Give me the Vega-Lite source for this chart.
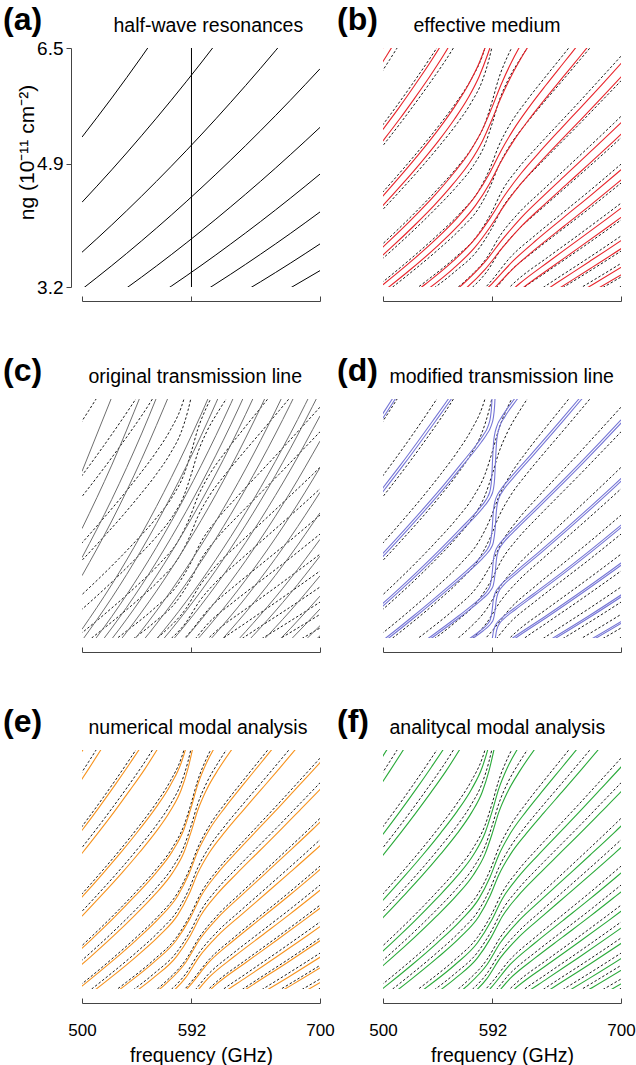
{
"$schema":"https://vega.github.io/schema/vega-lite/v6.json",
"background":"white",
"padding":{"left":3,"top":4,"right":2,"bottom":2},
"autosize":{"type":"pad"},
"config":{
 "view":{"stroke":null},
 "font":"Liberation Sans",
 "axis":{"grid":false,"domainColor":"#444","tickColor":"#444","domainWidth":1,"tickWidth":1,"labelFont":"Liberation Sans","labelFontSize":17,"labelColor":"black","titleFont":"Liberation Sans","titleFontSize":19.5,"titleFontWeight":"normal","titleColor":"black"},
 "title":{"font":"Liberation Sans","fontSize":32,"fontWeight":"bold","color":"black","anchor":"start","frame":"group","baseline":"alphabetic","offset":0,"dy":26}
},
"datasets":{
"half":[
{"b":1,"f":500,"n":5.27},{"b":1,"f":525,"n":5.81},{"b":1,"f":550,"n":6.377},{"b":1,"f":575,"n":6.969},
{"b":2,"f":500,"n":4.37},{"b":2,"f":525,"n":4.818},{"b":2,"f":550,"n":5.288},{"b":2,"f":575,"n":5.779},{"b":2,"f":600,"n":6.293},{"b":2,"f":625,"n":6.828},
{"b":3,"f":500,"n":3.68},{"b":3,"f":525,"n":4.057},{"b":3,"f":550,"n":4.453},{"b":3,"f":575,"n":4.867},{"b":3,"f":600,"n":5.299},{"b":3,"f":625,"n":5.75},{"b":3,"f":650,"n":6.219},{"b":3,"f":675,"n":6.707},
{"b":4,"f":500,"n":3.17},{"b":4,"f":525,"n":3.495},{"b":4,"f":550,"n":3.836},{"b":4,"f":575,"n":4.192},{"b":4,"f":600,"n":4.565},{"b":4,"f":625,"n":4.953},{"b":4,"f":650,"n":5.357},{"b":4,"f":675,"n":5.777},{"b":4,"f":700,"n":6.213},
{"b":5,"f":525,"n":3.04},{"b":5,"f":550,"n":3.336},{"b":5,"f":575,"n":3.646},{"b":5,"f":600,"n":3.97},{"b":5,"f":625,"n":4.308},{"b":5,"f":650,"n":4.659},{"b":5,"f":675,"n":5.025},{"b":5,"f":700,"n":5.404},
{"b":6,"f":550,"n":2.938},{"b":6,"f":575,"n":3.211},{"b":6,"f":600,"n":3.496},{"b":6,"f":625,"n":3.794},{"b":6,"f":650,"n":4.103},{"b":6,"f":675,"n":4.425},{"b":6,"f":700,"n":4.759},
{"b":7,"f":600,"n":3.112},{"b":7,"f":625,"n":3.377},{"b":7,"f":650,"n":3.652},{"b":7,"f":675,"n":3.938},{"b":7,"f":700,"n":4.236},
{"b":8,"f":625,"n":3.025},{"b":8,"f":650,"n":3.272},{"b":8,"f":675,"n":3.528},{"b":8,"f":700,"n":3.795},
{"b":9,"f":650,"n":2.954},{"b":9,"f":675,"n":3.186},{"b":9,"f":700,"n":3.426}
],
"sc":[
{"n":2.9,"da":2.987,"db":2.828,"oa":2.958,"ob":2.784,"ga":2.929,"gb":2.77,"ra":2.944,"rb":2.857},
{"n":3.2,"da":3.296,"db":3.12,"oa":3.264,"ob":3.072,"ga":3.232,"gb":3.056,"ra":3.248,"rb":3.152},
{"n":3.5,"da":3.605,"db":3.413,"oa":3.57,"ob":3.36,"ga":3.535,"gb":3.343,"ra":3.553,"rb":3.448},
{"n":3.8,"da":3.914,"db":3.705,"oa":3.876,"ob":3.648,"ga":3.838,"gb":3.629,"ra":3.857,"rb":3.743},
{"n":4.1,"da":4.223,"db":3.998,"oa":4.182,"ob":3.936,"ga":4.141,"gb":3.916,"ra":4.162,"rb":4.039},
{"n":4.4,"da":4.532,"db":4.29,"oa":4.488,"ob":4.224,"ga":4.444,"gb":4.202,"ra":4.466,"rb":4.334},
{"n":4.7,"da":4.841,"db":4.583,"oa":4.794,"ob":4.512,"ga":4.747,"gb":4.489,"ra":4.771,"rb":4.63},
{"n":5,"da":5.15,"db":4.875,"oa":5.1,"ob":4.8,"ga":5.05,"gb":4.775,"ra":5.075,"rb":4.925},
{"n":5.3,"da":5.459,"db":5.168,"oa":5.406,"ob":5.088,"ga":5.353,"gb":5.062,"ra":5.38,"rb":5.221},
{"n":5.6,"da":5.768,"db":5.46,"oa":5.712,"ob":5.376,"ga":5.656,"gb":5.348,"ra":5.684,"rb":5.516},
{"n":5.9,"da":6.077,"db":5.753,"oa":6.018,"ob":5.664,"ga":5.959,"gb":5.635,"ra":5.989,"rb":5.812},
{"n":6.2,"da":6.386,"db":6.045,"oa":6.324,"ob":5.952,"ga":6.262,"gb":5.921,"ra":6.293,"rb":6.107},
{"n":6.5,"da":6.695,"db":6.338,"oa":6.63,"ob":6.24,"ga":6.565,"gb":6.208,"ra":6.598,"rb":6.403},
{"n":6.9,"da":7.107,"db":6.728,"oa":7.038,"ob":6.624,"ga":6.969,"gb":6.59,"ra":7.004,"rb":6.797}
],
"g14":[
{"b":0,"f":482.1,"n":5.9},{"b":0,"f":494,"n":6.2},{"b":0,"f":505.6,"n":6.5},{"b":0,"f":520.5,"n":6.9},
{"b":1,"f":471.8,"n":4.7},{"b":1,"f":486.5,"n":5},{"b":1,"f":500.7,"n":5.3},{"b":1,"f":514.5,"n":5.6},{"b":1,"f":527.8,"n":5.9},{"b":1,"f":540.6,"n":6.2},{"b":1,"f":552.9,"n":6.5},{"b":1,"f":567.6,"n":6.9},
{"b":2,"f":465.8,"n":3.8},{"b":2,"f":483.8,"n":4.1},{"b":2,"f":501,"n":4.4},{"b":2,"f":517.5,"n":4.7},{"b":2,"f":533.4,"n":5},{"b":2,"f":548.4,"n":5.3},{"b":2,"f":562.4,"n":5.6},{"b":2,"f":574.4,"n":5.9},{"b":2,"f":583.4,"n":6.2},{"b":2,"f":589,"n":6.5},{"b":2,"f":594.4,"n":6.9},
{"b":3,"f":443.7,"n":2.9},{"b":3,"f":465.8,"n":3.2},{"b":3,"f":487.1,"n":3.5},{"b":3,"f":507.4,"n":3.8},{"b":3,"f":526.7,"n":4.1},{"b":3,"f":544.8,"n":4.4},{"b":3,"f":561.7,"n":4.7},{"b":3,"f":575.9,"n":5},{"b":3,"f":585.7,"n":5.3},{"b":3,"f":591.8,"n":5.6},{"b":3,"f":597.2,"n":5.9},{"b":3,"f":604.7,"n":6.2},{"b":3,"f":614.9,"n":6.5},{"b":3,"f":631,"n":6.9},
{"b":4,"f":477.8,"n":2.9},{"b":4,"f":501.8,"n":3.2},{"b":4,"f":524.4,"n":3.5},{"b":4,"f":545.6,"n":3.8},{"b":4,"f":565,"n":4.1},{"b":4,"f":580.5,"n":4.4},{"b":4,"f":590,"n":4.7},{"b":4,"f":597.3,"n":5},{"b":4,"f":607.2,"n":5.3},{"b":4,"f":620.5,"n":5.6},{"b":4,"f":635.3,"n":5.9},{"b":4,"f":650.5,"n":6.2},{"b":4,"f":665.6,"n":6.5},{"b":4,"f":685.3,"n":6.9},
{"b":5,"f":512.1,"n":2.9},{"b":5,"f":537.4,"n":3.2},{"b":5,"f":560.5,"n":3.5},{"b":5,"f":579.4,"n":3.8},{"b":5,"f":591,"n":4.1},{"b":5,"f":600.2,"n":4.4},{"b":5,"f":613.7,"n":4.7},{"b":5,"f":630.4,"n":5},{"b":5,"f":648,"n":5.3},{"b":5,"f":665.6,"n":5.6},{"b":5,"f":682.8,"n":5.9},{"b":5,"f":699.9,"n":6.2},{"b":5,"f":716.5,"n":6.5},
{"b":6,"f":544.8,"n":2.9},{"b":6,"f":569.9,"n":3.2},{"b":6,"f":587.3,"n":3.5},{"b":6,"f":598.6,"n":3.8},{"b":6,"f":614.1,"n":4.1},{"b":6,"f":633.8,"n":4.4},{"b":6,"f":654,"n":4.7},{"b":6,"f":674.1,"n":5},{"b":6,"f":693.9,"n":5.3},{"b":6,"f":713,"n":5.6},
{"b":7,"f":574.2,"n":2.9},{"b":7,"f":591.6,"n":3.2},{"b":7,"f":606.7,"n":3.5},{"b":7,"f":627.9,"n":3.8},{"b":7,"f":650.9,"n":4.1},{"b":7,"f":673.9,"n":4.4},{"b":7,"f":696.1,"n":4.7},{"b":7,"f":717.9,"n":5},
{"b":8,"f":593.8,"n":2.9},{"b":8,"f":612.8,"n":3.2},{"b":8,"f":638,"n":3.5},{"b":8,"f":663.9,"n":3.8},{"b":8,"f":689.2,"n":4.1},{"b":8,"f":713.9,"n":4.4},
{"b":9,"f":615.7,"n":2.9},{"b":9,"f":644.1,"n":3.2},{"b":9,"f":673,"n":3.5},{"b":9,"f":700.9,"n":3.8},{"b":9,"f":727.9,"n":4.1},
{"b":10,"f":645.2,"n":2.9},{"b":10,"f":677.1,"n":3.2},{"b":10,"f":707.8,"n":3.5},
{"b":11,"f":675.8,"n":2.9},{"b":11,"f":709.5,"n":3.2}
],
"g20":[
{"b":0,"f":480.3,"n":5.9},{"b":0,"f":492,"n":6.2},{"b":0,"f":503.4,"n":6.5},{"b":0,"f":517.9,"n":6.9},
{"b":1,"f":471.4,"n":4.7},{"b":1,"f":486,"n":5},{"b":1,"f":500.1,"n":5.3},{"b":1,"f":513.8,"n":5.6},{"b":1,"f":526.8,"n":5.9},{"b":1,"f":539.3,"n":6.2},{"b":1,"f":551,"n":6.5},{"b":1,"f":565.1,"n":6.9},
{"b":2,"f":465.4,"n":3.8},{"b":2,"f":483.3,"n":4.1},{"b":2,"f":500.4,"n":4.4},{"b":2,"f":516.7,"n":4.7},{"b":2,"f":532.2,"n":5},{"b":2,"f":546.8,"n":5.3},{"b":2,"f":560,"n":5.6},{"b":2,"f":571.6,"n":5.9},{"b":2,"f":580.8,"n":6.2},{"b":2,"f":587.8,"n":6.5},{"b":2,"f":595.5,"n":6.9},
{"b":3,"f":443.4,"n":2.9},{"b":3,"f":465.5,"n":3.2},{"b":3,"f":486.6,"n":3.5},{"b":3,"f":506.7,"n":3.8},{"b":3,"f":525.7,"n":4.1},{"b":3,"f":543.4,"n":4.4},{"b":3,"f":559.3,"n":4.7},{"b":3,"f":573.2,"n":5},{"b":3,"f":583.7,"n":5.3},{"b":3,"f":591.7,"n":5.6},{"b":3,"f":599.1,"n":5.9},{"b":3,"f":607.6,"n":6.2},{"b":3,"f":617.6,"n":6.5},{"b":3,"f":633.2,"n":6.9},
{"b":4,"f":477.4,"n":2.9},{"b":4,"f":501.2,"n":3.2},{"b":4,"f":523.6,"n":3.5},{"b":4,"f":544.3,"n":3.8},{"b":4,"f":562.8,"n":4.1},{"b":4,"f":578.1,"n":4.4},{"b":4,"f":589.6,"n":4.7},{"b":4,"f":599,"n":5},{"b":4,"f":609.9,"n":5.3},{"b":4,"f":622.8,"n":5.6},{"b":4,"f":637,"n":5.9},{"b":4,"f":651.7,"n":6.2},{"b":4,"f":666.5,"n":6.5},{"b":4,"f":686,"n":6.9},
{"b":5,"f":511.5,"n":2.9},{"b":5,"f":536.3,"n":3.2},{"b":5,"f":558.6,"n":3.5},{"b":5,"f":577,"n":3.8},{"b":5,"f":590.5,"n":4.1},{"b":5,"f":602.3,"n":4.4},{"b":5,"f":616.1,"n":4.7},{"b":5,"f":632.2,"n":5},{"b":5,"f":649.2,"n":5.3},{"b":5,"f":666.5,"n":5.6},{"b":5,"f":683.6,"n":5.9},{"b":5,"f":700.4,"n":6.2},{"b":5,"f":716.9,"n":6.5},
{"b":6,"f":543.6,"n":2.9},{"b":6,"f":567.7,"n":3.2},{"b":6,"f":586,"n":3.5},{"b":6,"f":600.4,"n":3.8},{"b":6,"f":616.4,"n":4.1},{"b":6,"f":635.3,"n":4.4},{"b":6,"f":655.1,"n":4.7},{"b":6,"f":674.8,"n":5},{"b":6,"f":694.4,"n":5.3},{"b":6,"f":713.5,"n":5.6},
{"b":7,"f":572.1,"n":2.9},{"b":7,"f":591.7,"n":3.2},{"b":7,"f":608.9,"n":3.5},{"b":7,"f":629.6,"n":3.8},{"b":7,"f":652,"n":4.1},{"b":7,"f":674.6,"n":4.4},{"b":7,"f":696.6,"n":4.7},{"b":7,"f":718.2,"n":5},
{"b":8,"f":594.2,"n":2.9},{"b":8,"f":614.8,"n":3.2},{"b":8,"f":639.4,"n":3.5},{"b":8,"f":664.7,"n":3.8},{"b":8,"f":689.8,"n":4.1},{"b":8,"f":714.3,"n":4.4},
{"b":9,"f":617.6,"n":2.9},{"b":9,"f":645.2,"n":3.2},{"b":9,"f":673.6,"n":3.5},{"b":9,"f":701.4,"n":3.8},{"b":9,"f":728.2,"n":4.1},
{"b":10,"f":646.3,"n":2.9},{"b":10,"f":677.7,"n":3.2},{"b":10,"f":708.2,"n":3.5},
{"b":11,"f":676.4,"n":2.9},{"b":11,"f":709.9,"n":3.2}
],
"g4":[
{"b":0,"f":483.9,"f2":486.4,"n":5.9},{"b":0,"f":496,"f2":498.5,"n":6.2},{"b":0,"f":507.8,"f2":510.3,"n":6.5},{"b":0,"f":523.2,"f2":525.7,"n":6.9},
{"b":1,"f":472.1,"f2":474.6,"n":4.7},{"b":1,"f":486.9,"f2":489.4,"n":5},{"b":1,"f":501.2,"f2":503.7,"n":5.3},{"b":1,"f":515.2,"f2":517.7,"n":5.6},{"b":1,"f":528.7,"f2":531.2,"n":5.9},{"b":1,"f":541.9,"f2":544.4,"n":6.2},{"b":1,"f":554.9,"f2":557.4,"n":6.5},{"b":1,"f":571.3,"f2":573.8,"n":6.9},
{"b":2,"f":466.2,"f2":468.7,"n":3.8},{"b":2,"f":484.3,"f2":486.8,"n":4.1},{"b":2,"f":501.7,"f2":504.2,"n":4.4},{"b":2,"f":518.4,"f2":520.9,"n":4.7},{"b":2,"f":534.7,"f2":537.2,"n":5},{"b":2,"f":550.5,"f2":553,"n":5.3},{"b":2,"f":565.4,"f2":567.9,"n":5.6},{"b":2,"f":579.9,"f2":582.4,"n":5.9},{"b":2,"f":584.2,"f2":586.7,"n":6},{"b":2,"f":588.3,"f2":590.8,"n":6.126},{"b":2,"f":590.3,"f2":592.8,"n":6.25},{"b":2,"f":591.6,"f2":594.1,"n":6.5},{"b":2,"f":592.3,"f2":594.8,"n":6.9},
{"b":3,"f":443.9,"f2":446.4,"n":2.9},{"b":3,"f":466.2,"f2":468.7,"n":3.2},{"b":3,"f":487.6,"f2":490.1,"n":3.5},{"b":3,"f":508.1,"f2":510.6,"n":3.8},{"b":3,"f":527.8,"f2":530.3,"n":4.1},{"b":3,"f":546.6,"f2":549.1,"n":4.4},{"b":3,"f":564.5,"f2":567,"n":4.7},{"b":3,"f":581.6,"f2":584.1,"n":5},{"b":3,"f":585.4,"f2":587.9,"n":5.08},{"b":3,"f":588.3,"f2":590.8,"n":5.159},{"b":3,"f":590.2,"f2":592.7,"n":5.25},{"b":3,"f":591.3,"f2":593.8,"n":5.4},{"b":3,"f":592.2,"f2":594.7,"n":5.7},{"b":3,"f":592.9,"f2":595.4,"n":5.9},{"b":3,"f":593.7,"f2":596.2,"n":6},{"b":3,"f":595.7,"f2":598.2,"n":6.126},{"b":3,"f":599.7,"f2":602.2,"n":6.25},{"b":3,"f":610.4,"f2":612.9,"n":6.5},{"b":3,"f":628.6,"f2":631.1,"n":6.9},
{"b":4,"f":478.2,"f2":480.7,"n":2.9},{"b":4,"f":502.4,"f2":504.9,"n":3.2},{"b":4,"f":525.2,"f2":527.7,"n":3.5},{"b":4,"f":547,"f2":549.5,"n":3.8},{"b":4,"f":568.2,"f2":570.7,"n":4.1},{"b":4,"f":581.2,"f2":583.7,"n":4.3},{"b":4,"f":585.6,"f2":588.1,"n":4.38},{"b":4,"f":588.3,"f2":590.8,"n":4.444},{"b":4,"f":590.2,"f2":592.7,"n":4.52},{"b":4,"f":591.7,"f2":594.2,"n":4.7},{"b":4,"f":592.5,"f2":595,"n":4.9},{"b":4,"f":593.1,"f2":595.6,"n":5},{"b":4,"f":594,"f2":596.5,"n":5.08},{"b":4,"f":595.65,"f2":598.15,"n":5.159},{"b":4,"f":599,"f2":601.5,"n":5.25},{"b":4,"f":606.5,"f2":609,"n":5.4},{"b":4,"f":622.6,"f2":625.1,"n":5.7},{"b":4,"f":649.1,"f2":651.6,"n":6.2},{"b":4,"f":664.6,"f2":667.1,"n":6.5},{"b":4,"f":684.7,"f2":687.2,"n":6.9},
{"b":5,"f":512.6,"f2":515.1,"n":2.9},{"b":5,"f":538.4,"f2":540.9,"n":3.2},{"b":5,"f":563.1,"f2":565.6,"n":3.5},{"b":5,"f":581.9,"f2":584.4,"n":3.75},{"b":5,"f":585.7,"f2":588.2,"n":3.81},{"b":5,"f":588.35,"f2":590.85,"n":3.865},{"b":5,"f":590.2,"f2":592.7,"n":3.93},{"b":5,"f":591.8,"f2":594.3,"n":4.1},{"b":5,"f":592.6,"f2":595.1,"n":4.25},{"b":5,"f":592.95,"f2":595.45,"n":4.3},{"b":5,"f":594,"f2":596.5,"n":4.38},{"b":5,"f":595.6,"f2":598.1,"n":4.444},{"b":5,"f":598.9,"f2":601.4,"n":4.52},{"b":5,"f":609.4,"f2":611.9,"n":4.7},{"b":5,"f":628.1,"f2":630.6,"n":5},{"b":5,"f":664.7,"f2":667.2,"n":5.6},{"b":5,"f":699.4,"f2":701.9,"n":6.2},{"b":5,"f":716.1,"f2":718.6,"n":6.5},
{"b":6,"f":546.25,"f2":548.75,"n":2.9},{"b":6,"f":573.45,"f2":575.95,"n":3.2},{"b":6,"f":581.75,"f2":584.25,"n":3.3},{"b":6,"f":585.4,"f2":587.9,"n":3.35},{"b":6,"f":588.4,"f2":590.9,"n":3.404},{"b":6,"f":590.3,"f2":592.8,"n":3.46},{"b":6,"f":591.85,"f2":594.35,"n":3.6},{"b":6,"f":592.5,"f2":595,"n":3.7},{"b":6,"f":593,"f2":595.5,"n":3.75},{"b":6,"f":593.95,"f2":596.45,"n":3.81},{"b":6,"f":595.6,"f2":598.1,"n":3.865},{"b":6,"f":598.8,"f2":601.3,"n":3.93},{"b":6,"f":610.3,"f2":612.8,"n":4.1},{"b":6,"f":631.9,"f2":634.4,"n":4.4},{"b":6,"f":652.9,"f2":655.4,"n":4.7},{"b":6,"f":673.4,"f2":675.9,"n":5},{"b":6,"f":693.4,"f2":695.9,"n":5.3},{"b":6,"f":712.7,"f2":715.2,"n":5.6},
{"b":7,"f":578.4,"f2":580.9,"n":2.9},{"b":7,"f":584.55,"f2":587.05,"n":2.97},{"b":7,"f":588.4,"f2":590.9,"n":3.029},{"b":7,"f":590.7,"f2":593.2,"n":3.1},{"b":7,"f":591.9,"f2":594.4,"n":3.2},{"b":7,"f":592.9,"f2":595.4,"n":3.3},{"b":7,"f":593.8,"f2":596.3,"n":3.35},{"b":7,"f":595.55,"f2":598.05,"n":3.404},{"b":7,"f":598.7,"f2":601.2,"n":3.46},{"b":7,"f":609.4,"f2":611.9,"n":3.6},{"b":7,"f":625.7,"f2":628.2,"n":3.8},{"b":7,"f":650,"f2":652.5,"n":4.1},{"b":7,"f":673.3,"f2":675.8,"n":4.4},{"b":7,"f":695.7,"f2":698.2,"n":4.7},{"b":7,"f":717.6,"f2":720.1,"n":5},
{"b":8,"f":591.2,"f2":593.7,"n":2.8},{"b":8,"f":592.4,"f2":594.9,"n":2.9},{"b":8,"f":593.5,"f2":596,"n":2.97},{"b":8,"f":595.5,"f2":598,"n":3.029},{"b":8,"f":600.4,"f2":602.9,"n":3.1},{"b":8,"f":609,"f2":611.5,"n":3.2},{"b":8,"f":636.5,"f2":639,"n":3.5},{"b":8,"f":663.1,"f2":665.6,"n":3.8},{"b":8,"f":688.8,"f2":691.3,"n":4.1},{"b":8,"f":713.5,"f2":716,"n":4.4},
{"b":9,"f":612.45,"f2":614.95,"n":2.9},{"b":9,"f":642.9,"f2":645.4,"n":3.2},{"b":9,"f":672.5,"f2":675,"n":3.5},{"b":9,"f":700.6,"f2":703.1,"n":3.8},{"b":9,"f":727.7,"f2":730.2,"n":4.1},
{"b":10,"f":644.3,"f2":646.8,"n":2.9},{"b":10,"f":676.7,"f2":679.2,"n":3.2},{"b":10,"f":707.6,"f2":710.1,"n":3.5},
{"b":11,"f":675.4,"f2":677.9,"n":2.9},{"b":11,"f":709.4,"f2":711.9,"n":3.2}
],
"orig":[
{"b":1,"f":500,"n":5.5},{"b":1,"f":525,"n":6.524},
{"b":2,"f":500,"n":4.71},{"b":2,"f":525,"n":5.587},{"b":2,"f":550,"n":6.575},
{"b":3,"f":500,"n":4.31},{"b":3,"f":525,"n":5.113},{"b":3,"f":550,"n":6.017},{"b":3,"f":575,"n":7.03},
{"b":4,"f":500,"n":4.06},{"b":4,"f":525,"n":4.816},{"b":4,"f":550,"n":5.668},{"b":4,"f":575,"n":6.622},
{"b":5,"f":500,"n":3.32},{"b":5,"f":525,"n":3.938},{"b":5,"f":550,"n":4.635},{"b":5,"f":575,"n":5.415},{"b":5,"f":600,"n":6.284},{"b":5,"f":625,"n":7.25},
{"b":6,"f":500,"n":3.165},{"b":6,"f":525,"n":3.754},{"b":6,"f":550,"n":4.418},{"b":6,"f":575,"n":5.162},{"b":6,"f":600,"n":5.991},{"b":6,"f":625,"n":6.911},
{"b":7,"f":500,"n":2.947},{"b":7,"f":525,"n":3.496},{"b":7,"f":550,"n":4.114},{"b":7,"f":575,"n":4.807},{"b":7,"f":600,"n":5.578},{"b":7,"f":625,"n":6.435},{"b":7,"f":650,"n":7.382},
{"b":8,"f":500,"n":2.813},{"b":8,"f":525,"n":3.337},{"b":8,"f":550,"n":3.927},{"b":8,"f":575,"n":4.588},{"b":8,"f":600,"n":5.325},{"b":8,"f":625,"n":6.143},{"b":8,"f":650,"n":7.047},
{"b":9,"f":500,"n":2.686},{"b":9,"f":525,"n":3.186},{"b":9,"f":550,"n":3.75},{"b":9,"f":575,"n":4.381},{"b":9,"f":600,"n":5.084},{"b":9,"f":625,"n":5.865},{"b":9,"f":650,"n":6.729},
{"b":10,"f":500,"n":2.547},{"b":10,"f":525,"n":3.021},{"b":10,"f":550,"n":3.556},{"b":10,"f":575,"n":4.154},{"b":10,"f":600,"n":4.821},{"b":10,"f":625,"n":5.562},{"b":10,"f":650,"n":6.38},{"b":10,"f":675,"n":7.281},
{"b":11,"f":525,"n":2.805},{"b":11,"f":550,"n":3.302},{"b":11,"f":575,"n":3.857},{"b":11,"f":600,"n":4.477},{"b":11,"f":625,"n":5.164},{"b":11,"f":650,"n":5.924},{"b":11,"f":675,"n":6.761},
{"b":12,"f":525,"n":2.665},{"b":12,"f":550,"n":3.137},{"b":12,"f":575,"n":3.665},{"b":12,"f":600,"n":4.253},{"b":12,"f":625,"n":4.907},{"b":12,"f":650,"n":5.629},{"b":12,"f":675,"n":6.423},{"b":12,"f":700,"n":7.295},
{"b":13,"f":550,"n":2.94},{"b":13,"f":575,"n":3.435},{"b":13,"f":600,"n":3.986},{"b":13,"f":625,"n":4.599},{"b":13,"f":650,"n":5.276},{"b":13,"f":675,"n":6.02},{"b":13,"f":700,"n":6.838},
{"b":14,"f":550,"n":2.838},{"b":14,"f":575,"n":3.316},{"b":14,"f":600,"n":3.848},{"b":14,"f":625,"n":4.439},{"b":14,"f":650,"n":5.093},{"b":14,"f":675,"n":5.812},{"b":14,"f":700,"n":6.601},
{"b":15,"f":550,"n":2.694},{"b":15,"f":575,"n":3.148},{"b":15,"f":600,"n":3.653},{"b":15,"f":625,"n":4.215},{"b":15,"f":650,"n":4.835},{"b":15,"f":675,"n":5.517},{"b":15,"f":700,"n":6.266},
{"b":16,"f":550,"n":2.545},{"b":16,"f":575,"n":2.973},{"b":16,"f":600,"n":3.451},{"b":16,"f":625,"n":3.981},{"b":16,"f":650,"n":4.567},{"b":16,"f":675,"n":5.211},{"b":16,"f":700,"n":5.919},
{"b":17,"f":575,"n":2.789},{"b":17,"f":600,"n":3.237},{"b":17,"f":625,"n":3.734},{"b":17,"f":650,"n":4.284},{"b":17,"f":675,"n":4.888},{"b":17,"f":700,"n":5.552},
{"b":18,"f":575,"n":2.618},{"b":18,"f":600,"n":3.038},{"b":18,"f":625,"n":3.505},{"b":18,"f":650,"n":4.021},{"b":18,"f":675,"n":4.588},{"b":18,"f":700,"n":5.211},
{"b":19,"f":600,"n":2.873},{"b":19,"f":625,"n":3.315},{"b":19,"f":650,"n":3.803},{"b":19,"f":675,"n":4.34},{"b":19,"f":700,"n":4.929},
{"b":20,"f":600,"n":2.66},{"b":20,"f":625,"n":3.068},{"b":20,"f":650,"n":3.52},{"b":20,"f":675,"n":4.016},{"b":20,"f":700,"n":4.562},
{"b":21,"f":625,"n":2.913},{"b":21,"f":650,"n":3.342},{"b":21,"f":675,"n":3.814},{"b":21,"f":700,"n":4.331},
{"b":22,"f":625,"n":2.73},{"b":22,"f":650,"n":3.131},{"b":22,"f":675,"n":3.573},{"b":22,"f":700,"n":4.058},
{"b":23,"f":650,"n":2.916},{"b":23,"f":675,"n":3.328},{"b":23,"f":700,"n":3.779},
{"b":24,"f":650,"n":2.778},{"b":24,"f":675,"n":3.17},{"b":24,"f":700,"n":3.601},
{"b":25,"f":675,"n":2.967},{"b":25,"f":700,"n":3.37},
{"b":26,"f":675,"n":2.844},{"b":26,"f":700,"n":3.231}
]
},
"columns":2,
"spacing":{"row":112,"column":63},
"bounds":"flush",
"concat":[
{"width":238,"height":239,"title":{"text":"(a)","dx":-79},"resolve":{"axis":{"x":"independent"}},
 "layer":[
  {"data":{"name":"half"},"mark":{"type":"line","color":"black","strokeWidth":1,"clip":true,"interpolate":"monotone"},
   "encoding":{"x":{"field":"f","type":"quantitative","scale":{"domain":[500,700],"nice":false,"zero":false},"axis":{"orient":"bottom","values":[500,592,700],"offset":14,"tickSize":-5,"labels":false,"title":null}},
    "y":{"field":"n","type":"quantitative","scale":{"domain":[3.2,6.5],"nice":false,"zero":false},"axis":{"values":[3.2,4.9,6.5],"offset":11,"tickSize":5,"labelPadding":3,"labelFontSize":19,"format":".1f","title":"ng (10\u207b\u00b9\u00b9 cm\u207b\u00b2)","titleFontSize":21,"titleY":104,"titleX":-38,"titleBaseline":"alphabetic","titleAlign":"center","titleAngle":-90}},
    "detail":{"field":"b","type":"nominal"}}},
  {"data":{"values":[{"f":592}]},"mark":{"type":"rule","color":"black","strokeWidth":1},
   "encoding":{"x":{"field":"f","type":"quantitative","scale":{"domain":[500,700],"nice":false,"zero":false},"axis":{"orient":"top","labels":false,"ticks":false,"domain":false,"title":"half-wave resonances","titleX":31,"titleY":-17,"titleAlign":"left","titleBaseline":"alphabetic","titleAngle":0}}}}
 ]},
{"width":238,"height":239,"title":{"text":"(b)","dx":-46},"resolve":{"axis":{"x":"independent"}},
 "layer":[
  {"data":{"name":"g14"},"transform":[{"lookup":"n","from":{"data":{"name":"sc"},"key":"n","fields":["da","db","oa","ob","ga","gb"]}}],
   "mark":{"type":"line","color":"black","strokeWidth":0.9,"strokeDash":[2.5,2],"clip":true,"interpolate":"monotone"},
   "encoding":{"x":{"field":"f","type":"quantitative","scale":{"domain":[500,700],"nice":false,"zero":false},"axis":{"orient":"bottom","values":[500,592,700],"offset":14,"tickSize":-5,"labels":false,"title":null}},
    "y":{"field":"da","type":"quantitative","scale":{"domain":[3.2,6.5],"nice":false,"zero":false},"axis":{"values":[3.2,4.9,6.5],"offset":11,"tickSize":5,"labels":false,"title":null}},
    "detail":{"field":"b","type":"nominal"}}},
  {"data":{"name":"g14"},"transform":[{"lookup":"n","from":{"data":{"name":"sc"},"key":"n","fields":["da","db","oa","ob","ga","gb"]}}],
   "mark":{"type":"line","color":"black","strokeWidth":0.9,"strokeDash":[2.5,2],"clip":true,"interpolate":"monotone"},
   "encoding":{"x":{"field":"f","type":"quantitative","scale":{"domain":[500,700],"nice":false,"zero":false},"axis":null},
    "y":{"field":"db","type":"quantitative","scale":{"domain":[3.2,6.5],"nice":false,"zero":false},"axis":null},
    "detail":{"field":"b","type":"nominal"}}},
  {"data":{"name":"g20"},"transform":[{"lookup":"n","from":{"data":{"name":"sc"},"key":"n","fields":["ra","rb"]}}],
   "mark":{"type":"line","color":"#e8242b","strokeWidth":1.1,"clip":true,"interpolate":"monotone"},
   "encoding":{"x":{"field":"f","type":"quantitative","scale":{"domain":[500,700],"nice":false,"zero":false},"axis":null},
    "y":{"field":"ra","type":"quantitative","scale":{"domain":[3.2,6.5],"nice":false,"zero":false},"axis":null},
    "detail":{"field":"b","type":"nominal"}}},
  {"data":{"name":"g20"},"transform":[{"lookup":"n","from":{"data":{"name":"sc"},"key":"n","fields":["ra","rb"]}}],
   "mark":{"type":"line","color":"#e8242b","strokeWidth":1.1,"clip":true,"interpolate":"monotone"},
   "encoding":{"x":{"field":"f","type":"quantitative","scale":{"domain":[500,700],"nice":false,"zero":false},"axis":{"orient":"top","labels":false,"ticks":false,"domain":false,"title":"effective medium","titleX":30,"titleY":-17,"titleAlign":"left","titleBaseline":"alphabetic","titleAngle":0}},
    "y":{"field":"rb","type":"quantitative","scale":{"domain":[3.2,6.5],"nice":false,"zero":false},"axis":null},
    "detail":{"field":"b","type":"nominal"}}}
 ]},
{"width":238,"height":239,"title":{"text":"(c)","dx":-79},"resolve":{"axis":{"x":"independent"}},
 "layer":[
  {"data":{"name":"g14"},"transform":[{"lookup":"n","from":{"data":{"name":"sc"},"key":"n","fields":["da","db","oa","ob","ga","gb"]}}],
   "mark":{"type":"line","color":"black","strokeWidth":0.9,"strokeDash":[2.5,2],"clip":true,"interpolate":"monotone"},
   "encoding":{"x":{"field":"f","type":"quantitative","scale":{"domain":[500,700],"nice":false,"zero":false},"axis":{"orient":"bottom","values":[500,592,700],"offset":14,"tickSize":-5,"labels":false,"title":null}},
    "y":{"field":"da","type":"quantitative","scale":{"domain":[3.2,6.5],"nice":false,"zero":false},"axis":{"values":[3.2,4.9,6.5],"offset":11,"tickSize":5,"labelPadding":3,"labelFontSize":19,"format":".1f","title":"ng (10\u207b\u00b9\u00b9 cm\u207b\u00b2)","titleFontSize":21,"titleY":104,"titleX":-38,"titleBaseline":"alphabetic","titleAlign":"center","titleAngle":-90}},
    "detail":{"field":"b","type":"nominal"}}},
  {"data":{"name":"g14"},"transform":[{"lookup":"n","from":{"data":{"name":"sc"},"key":"n","fields":["da","db","oa","ob","ga","gb"]}}],
   "mark":{"type":"line","color":"black","strokeWidth":0.9,"strokeDash":[2.5,2],"clip":true,"interpolate":"monotone"},
   "encoding":{"x":{"field":"f","type":"quantitative","scale":{"domain":[500,700],"nice":false,"zero":false},"axis":null},
    "y":{"field":"db","type":"quantitative","scale":{"domain":[3.2,6.5],"nice":false,"zero":false},"axis":null},
    "detail":{"field":"b","type":"nominal"}}},
  {"data":{"name":"orig"},
   "mark":{"type":"line","color":"#6e6e6e","strokeWidth":1,"clip":true,"interpolate":"monotone"},
   "encoding":{"x":{"field":"f","type":"quantitative","scale":{"domain":[500,700],"nice":false,"zero":false},"axis":{"orient":"top","labels":false,"ticks":false,"domain":false,"title":"original transmission line","titleX":6,"titleY":-17,"titleAlign":"left","titleBaseline":"alphabetic","titleAngle":0}},
    "y":{"field":"n","type":"quantitative","scale":{"domain":[3.2,6.5],"nice":false,"zero":false},"axis":null},
    "detail":{"field":"b","type":"nominal"}}}
 ]},
{"width":238,"height":239,"title":{"text":"(d)","dx":-46},"resolve":{"axis":{"x":"independent"}},
 "layer":[
  {"data":{"name":"g14"},"transform":[{"lookup":"n","from":{"data":{"name":"sc"},"key":"n","fields":["da","db","oa","ob","ga","gb"]}}],
   "mark":{"type":"line","color":"black","strokeWidth":0.9,"strokeDash":[2.5,2],"clip":true,"interpolate":"monotone"},
   "encoding":{"x":{"field":"f","type":"quantitative","scale":{"domain":[500,700],"nice":false,"zero":false},"axis":{"orient":"bottom","values":[500,592,700],"offset":14,"tickSize":-5,"labels":false,"title":null}},
    "y":{"field":"da","type":"quantitative","scale":{"domain":[3.2,6.5],"nice":false,"zero":false},"axis":{"values":[3.2,4.9,6.5],"offset":11,"tickSize":5,"labels":false,"title":null}},
    "detail":{"field":"b","type":"nominal"}}},
  {"data":{"name":"g14"},"transform":[{"lookup":"n","from":{"data":{"name":"sc"},"key":"n","fields":["da","db","oa","ob","ga","gb"]}}],
   "mark":{"type":"line","color":"black","strokeWidth":0.9,"strokeDash":[2.5,2],"clip":true,"interpolate":"monotone"},
   "encoding":{"x":{"field":"f","type":"quantitative","scale":{"domain":[500,700],"nice":false,"zero":false},"axis":null},
    "y":{"field":"db","type":"quantitative","scale":{"domain":[3.2,6.5],"nice":false,"zero":false},"axis":null},
    "detail":{"field":"b","type":"nominal"}}},
  {"data":{"name":"g4"},
   "mark":{"type":"line","color":"#7676d6","strokeWidth":1.1,"clip":true,"interpolate":"monotone"},
   "encoding":{"x":{"field":"f","type":"quantitative","scale":{"domain":[500,700],"nice":false,"zero":false},"axis":null},
    "y":{"field":"n","type":"quantitative","scale":{"domain":[3.2,6.5],"nice":false,"zero":false},"axis":null},
    "detail":{"field":"b","type":"nominal"}}},
  {"data":{"name":"g4"},
   "mark":{"type":"line","color":"#7676d6","strokeWidth":1.1,"clip":true,"interpolate":"monotone"},
   "encoding":{"x":{"field":"f2","type":"quantitative","scale":{"domain":[500,700],"nice":false,"zero":false},"axis":{"orient":"top","labels":false,"ticks":false,"domain":false,"title":"modified transmission line","titleX":6,"titleY":-17,"titleAlign":"left","titleBaseline":"alphabetic","titleAngle":0}},
    "y":{"field":"n","type":"quantitative","scale":{"domain":[3.2,6.5],"nice":false,"zero":false},"axis":null},
    "detail":{"field":"b","type":"nominal"}}}
 ]},
{"width":238,"height":239,"title":{"text":"(e)","dx":-79},"resolve":{"axis":{"x":"independent"}},
 "layer":[
  {"data":{"name":"g14"},"transform":[{"lookup":"n","from":{"data":{"name":"sc"},"key":"n","fields":["da","db","oa","ob","ga","gb"]}}],
   "mark":{"type":"line","color":"black","strokeWidth":0.9,"strokeDash":[2.5,2],"clip":true,"interpolate":"monotone"},
   "encoding":{"x":{"field":"f","type":"quantitative","scale":{"domain":[500,700],"nice":false,"zero":false},"axis":{"orient":"bottom","values":[500,592,700],"offset":14,"tickSize":-5,"labelPadding":24,"labelFlush":false,"title":"frequency (GHz)","titlePadding":8}},
    "y":{"field":"da","type":"quantitative","scale":{"domain":[3.2,6.5],"nice":false,"zero":false},"axis":{"values":[3.2,4.9,6.5],"offset":11,"tickSize":5,"labelPadding":3,"labelFontSize":19,"format":".1f","title":"ng (10\u207b\u00b9\u00b9 cm\u207b\u00b2)","titleFontSize":21,"titleY":104,"titleX":-38,"titleBaseline":"alphabetic","titleAlign":"center","titleAngle":-90}},
    "detail":{"field":"b","type":"nominal"}}},
  {"data":{"name":"g14"},"transform":[{"lookup":"n","from":{"data":{"name":"sc"},"key":"n","fields":["da","db","oa","ob","ga","gb"]}}],
   "mark":{"type":"line","color":"black","strokeWidth":0.9,"strokeDash":[2.5,2],"clip":true,"interpolate":"monotone"},
   "encoding":{"x":{"field":"f","type":"quantitative","scale":{"domain":[500,700],"nice":false,"zero":false},"axis":null},
    "y":{"field":"db","type":"quantitative","scale":{"domain":[3.2,6.5],"nice":false,"zero":false},"axis":null},
    "detail":{"field":"b","type":"nominal"}}},
  {"data":{"name":"g14"},"transform":[{"lookup":"n","from":{"data":{"name":"sc"},"key":"n","fields":["da","db","oa","ob","ga","gb"]}}],
   "mark":{"type":"line","color":"#f7931e","strokeWidth":1.1,"clip":true,"interpolate":"monotone"},
   "encoding":{"x":{"field":"f","type":"quantitative","scale":{"domain":[500,700],"nice":false,"zero":false},"axis":null},
    "y":{"field":"oa","type":"quantitative","scale":{"domain":[3.2,6.5],"nice":false,"zero":false},"axis":null},
    "detail":{"field":"b","type":"nominal"}}},
  {"data":{"name":"g14"},"transform":[{"lookup":"n","from":{"data":{"name":"sc"},"key":"n","fields":["da","db","oa","ob","ga","gb"]}}],
   "mark":{"type":"line","color":"#f7931e","strokeWidth":1.1,"clip":true,"interpolate":"monotone"},
   "encoding":{"x":{"field":"f","type":"quantitative","scale":{"domain":[500,700],"nice":false,"zero":false},"axis":{"orient":"top","labels":false,"ticks":false,"domain":false,"title":"numerical modal analysis","titleX":6,"titleY":-17,"titleAlign":"left","titleBaseline":"alphabetic","titleAngle":0}},
    "y":{"field":"ob","type":"quantitative","scale":{"domain":[3.2,6.5],"nice":false,"zero":false},"axis":null},
    "detail":{"field":"b","type":"nominal"}}}
 ]},
{"width":238,"height":239,"title":{"text":"(f)","dx":-46},"resolve":{"axis":{"x":"independent"}},
 "layer":[
  {"data":{"name":"g14"},"transform":[{"lookup":"n","from":{"data":{"name":"sc"},"key":"n","fields":["da","db","oa","ob","ga","gb"]}}],
   "mark":{"type":"line","color":"black","strokeWidth":0.9,"strokeDash":[2.5,2],"clip":true,"interpolate":"monotone"},
   "encoding":{"x":{"field":"f","type":"quantitative","scale":{"domain":[500,700],"nice":false,"zero":false},"axis":{"orient":"bottom","values":[500,592,700],"offset":14,"tickSize":-5,"labelPadding":24,"labelFlush":false,"title":"frequency (GHz)","titlePadding":8}},
    "y":{"field":"da","type":"quantitative","scale":{"domain":[3.2,6.5],"nice":false,"zero":false},"axis":{"values":[3.2,4.9,6.5],"offset":11,"tickSize":5,"labels":false,"title":null}},
    "detail":{"field":"b","type":"nominal"}}},
  {"data":{"name":"g14"},"transform":[{"lookup":"n","from":{"data":{"name":"sc"},"key":"n","fields":["da","db","oa","ob","ga","gb"]}}],
   "mark":{"type":"line","color":"black","strokeWidth":0.9,"strokeDash":[2.5,2],"clip":true,"interpolate":"monotone"},
   "encoding":{"x":{"field":"f","type":"quantitative","scale":{"domain":[500,700],"nice":false,"zero":false},"axis":null},
    "y":{"field":"db","type":"quantitative","scale":{"domain":[3.2,6.5],"nice":false,"zero":false},"axis":null},
    "detail":{"field":"b","type":"nominal"}}},
  {"data":{"name":"g14"},"transform":[{"lookup":"n","from":{"data":{"name":"sc"},"key":"n","fields":["da","db","oa","ob","ga","gb"]}}],
   "mark":{"type":"line","color":"#2aaa3a","strokeWidth":1.1,"clip":true,"interpolate":"monotone"},
   "encoding":{"x":{"field":"f","type":"quantitative","scale":{"domain":[500,700],"nice":false,"zero":false},"axis":null},
    "y":{"field":"ga","type":"quantitative","scale":{"domain":[3.2,6.5],"nice":false,"zero":false},"axis":null},
    "detail":{"field":"b","type":"nominal"}}},
  {"data":{"name":"g14"},"transform":[{"lookup":"n","from":{"data":{"name":"sc"},"key":"n","fields":["da","db","oa","ob","ga","gb"]}}],
   "mark":{"type":"line","color":"#2aaa3a","strokeWidth":1.1,"clip":true,"interpolate":"monotone"},
   "encoding":{"x":{"field":"f","type":"quantitative","scale":{"domain":[500,700],"nice":false,"zero":false},"axis":{"orient":"top","labels":false,"ticks":false,"domain":false,"title":"analitycal modal analysis","titleX":6,"titleY":-17,"titleAlign":"left","titleBaseline":"alphabetic","titleAngle":0}},
    "y":{"field":"gb","type":"quantitative","scale":{"domain":[3.2,6.5],"nice":false,"zero":false},"axis":null},
    "detail":{"field":"b","type":"nominal"}}}
 ]}
]
}
